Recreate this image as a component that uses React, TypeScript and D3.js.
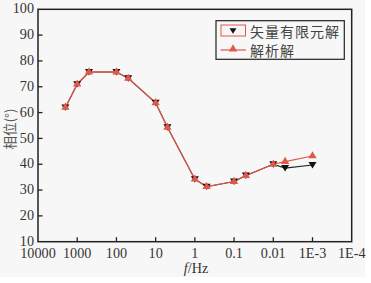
import React from "react";
import * as d3 from "d3";

const freqs = [2000, 1000, 500, 100, 50, 10, 5, 1, 0.5, 0.1, 0.05, 0.01, 0.005, 0.001];
const analytic = [62, 71, 75.7, 75.7, 73.3, 63.8, 54.3, 34.2, 31.3, 33.3, 35.6, 40, 41, 43.2];
const fem = [62, 71, 75.7, 75.7, 73.3, 63.8, 54.3, 34.2, 31.3, 33.3, 35.6, 40, 38.5, 39.7];
const xTicks = [10000, 1000, 100, 10, 1, 0.1, 0.01, 0.001, 0.0001];
const xTickLabels = ["10000", "1000", "100", "10", "1", "0.1", "0.01", "1E-3", "1E-4"];
const yTicks = [10, 20, 30, 40, 50, 60, 70, 80, 90, 100];
const seriesNames = ["矢量有限元解", "解析解"];

const W = 371, H = 283;
const L = 38, R = 351.7, T = 9.3, B = 241.7;
const RED = "#e0584a";
const INK = "#222";
const TXT = "#333";
const SERIF = "Liberation Serif, Times New Roman, DejaVu Serif, serif";
const CJK = "Noto Sans CJK SC, sans-serif";

const serifStyle = { fontFamily: SERIF, fontSize: "14.2px" };
const cjkStyle = { fontFamily: CJK, fontSize: "14px" };

export default function App() {
  const x = d3.scaleLog().domain([10000, 0.0001]).range([L, R]);
  const y = d3.scaleLinear().domain([10, 100]).range([B, T]);
  const line = d3.line<number>().x((_, i) => x(freqs[i])).y((d) => y(d));
  const up = d3.symbol().type(d3.symbolTriangle).size(30)();
  const down = (cx: number, cy: number, s = 4) =>
    `M${cx - s},${cy - s * 0.75}L${cx + s},${cy - s * 0.75}L${cx},${cy + s * 0.85}Z`;

  return (
    <svg width={W} height={H} style={{ position: "absolute", left: 0, top: 0 }}>
      <rect x={0} y={0} width={W} height={H} fill="#ffffff" />
      <rect x={0} y={0} width={365} height={277} fill="#f7f7f7" />
      {/* frame */}
      <rect x={L} y={T} width={R - L} height={B - T} fill="none" stroke={INK} strokeWidth={1.5} />
      {/* y ticks */}
      {yTicks.map((v) => (
        <g key={"y" + v}>
          {v !== 10 && v !== 100 && (
            <line x1={L} x2={L + 4.5} y1={y(v)} y2={y(v)} stroke={INK} strokeWidth={1.3} />
          )}
          <text x={34} y={y(v) - 0.5} dy="0.33em" textAnchor="end" style={serifStyle} fill={TXT}>
            {v}
          </text>
        </g>
      ))}
      {/* x ticks */}
      {xTicks.map((v, i) => (
        <g key={"x" + i}>
          {i !== 0 && i !== xTicks.length - 1 && (
            <line x1={x(v)} x2={x(v)} y1={B} y2={B - 4.5} stroke={INK} strokeWidth={1.3} />
          )}
          <text x={x(v)} y={258.3} textAnchor="middle" style={serifStyle} fill={TXT}>
            {xTickLabels[i]}
          </text>
        </g>
      ))}
      {/* axis titles */}
      <text x={196} y={273} textAnchor="middle" style={serifStyle} fill={TXT}>
        <tspan fontStyle="italic">f</tspan>/Hz
      </text>
      <text
        transform={`translate(8.5,129) rotate(-90)`}
        textAnchor="middle"
        dominantBaseline="central"
        style={{ fontFamily: CJK, fontSize: "13.5px" }}
        fill="#555"
      >
        相位(°)
      </text>
      {/* lines */}
      <path d={line(fem) || ""} fill="none" stroke="#222" strokeWidth={1.1} />
      <path d={line(analytic) || ""} fill="none" stroke={RED} strokeWidth={1.2} />
      {/* markers */}
      {fem.map((v, i) => (
        <path key={"f" + i} d={down(x(freqs[i]), y(v))} fill="#111" />
      ))}
      {analytic.map((v, i) => (
        <path key={"a" + i} d={up} transform={`translate(${x(freqs[i])},${y(v)})`} fill={RED} />
      ))}
      {/* legend */}
      <rect x={216} y={20.7} width={128.3} height={38.6} fill="#f7f7f7" stroke={INK} strokeWidth={1.2} />
      <rect x={221} y={25} width={24.5} height={11} fill="none" stroke={RED} strokeWidth={1} />
      <path d={down(233, 30.8, 3.5)} fill="#111" />
      <line x1={220.5} x2={246} y1={50} y2={50} stroke={RED} strokeWidth={1.2} />
      <path d={up} transform="translate(233,49)" fill={RED} />
      <text x={250} y={31} dominantBaseline="central" style={cjkStyle} letterSpacing={1} fill="#444">
        {seriesNames[0]}
      </text>
      <text x={250} y={50} dominantBaseline="central" style={cjkStyle} letterSpacing={1} fill="#444">
        {seriesNames[1]}
      </text>
    </svg>
  );
}
